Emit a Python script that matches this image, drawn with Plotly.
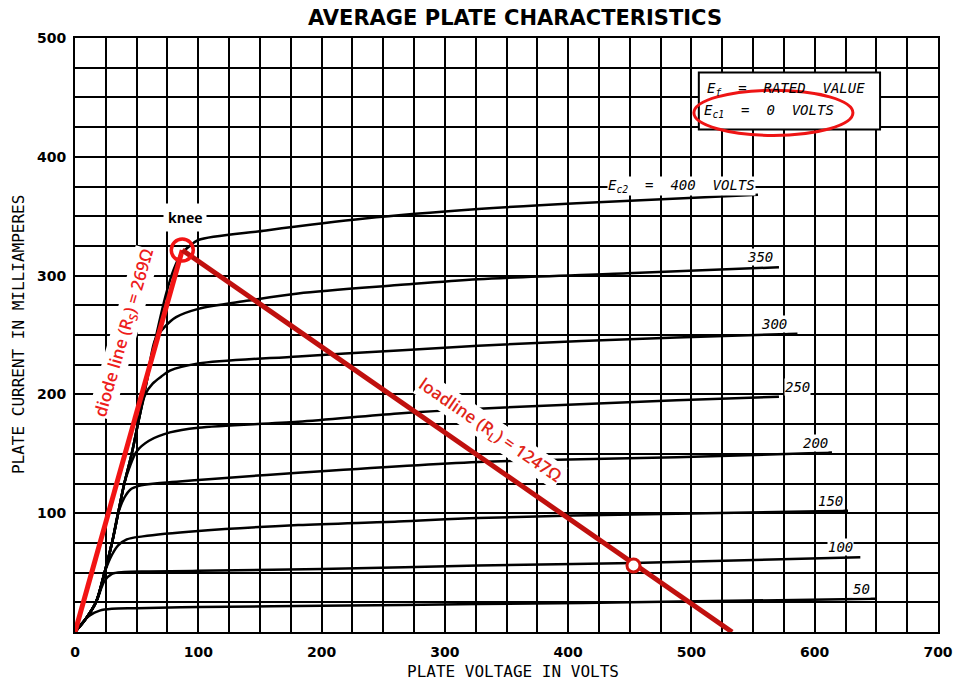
import plotly.graph_objects as go

# ---------------- data ----------------
# Plate voltage (V) / plate current (mA) for each screen-grid voltage Ec2
v_50 = [0, 6, 12, 20, 30, 50, 100, 200, 327, 450, 649]
i_50 = [0, 8, 14, 18, 19.5, 20, 21, 22, 23.5, 25, 28]

v_100 = [0, 8, 17, 24, 30, 40, 60, 100, 200, 327, 453, 637]
i_100 = [0, 10, 25, 43, 49, 50.5, 51, 51.5, 53, 56, 58, 63]

v_150 = [0, 8, 17, 24, 30, 35, 42, 55, 100, 181, 262, 327, 453, 627]
i_150 = [0, 10, 25, 50, 65, 73, 78, 80.5, 85, 90, 93, 96, 99, 102]

v_200 = [0, 8, 17, 24, 30, 35, 40, 45, 52, 65, 100, 181, 327, 391, 488, 614]
i_200 = [0, 10, 25, 50, 75, 100, 113, 120, 123, 125, 128, 134, 143, 145, 147, 151]

v_250 = [0, 8, 17, 24, 30, 35, 40, 44, 50, 60, 77, 100, 181, 262, 327, 488, 571]
i_250 = [0, 10, 25, 50, 75, 100, 125, 138, 152, 161, 168, 172, 177, 184, 188, 195, 198]

v_300 = [0, 8, 17, 24, 30, 35, 40, 46, 52, 57, 63, 70, 77, 100, 181, 262, 327, 488, 586]
i_300 = [0, 10, 25, 50, 75, 100, 125, 150, 180, 200, 209, 215, 220, 226, 232, 237, 241, 248, 251]

v_350 = [0, 8, 17, 24, 30, 35, 40, 46, 52, 58, 65, 72, 82, 100, 141, 181, 262, 327, 448, 571]
i_350 = [0, 10, 25, 50, 75, 100, 125, 150, 180, 210, 246, 256, 265, 272, 279, 285, 292, 297, 302, 307]

v_400 = [0, 8, 17, 24, 30, 35, 40, 46, 52, 58, 66, 74, 80, 86, 93, 100, 155, 235, 327, 407, 554]
i_400 = [0, 10, 25, 50, 75, 100, 125, 150, 180, 210, 250, 285, 305, 318, 325, 330, 338, 348, 356, 361, 368]

curve_labels = ["50", "100", "150", "200", "250", "300", "350"]
label_v = [638, 621, 613, 601, 586, 567, 556]
label_i = [28, 63, 102, 151, 198, 251, 307]

# diode line and load line (red overlays)
diode_v = [0, 87]
diode_i = [0, 321.5]
load_v = [87, 533]
load_i = [321.5, 0]
knee_v, knee_i = [87], [321.5]
op_v, op_i = [453], [56]

x_ticks = [0, 100, 200, 300, 400, 500, 600, 700]
y_ticks = [100, 200, 300, 400, 500]

MONO = "DejaVu Sans Mono"

# ---------------- figure ----------------
fig = go.Figure()

curves = [(v_50, i_50), (v_100, i_100), (v_150, i_150), (v_200, i_200),
          (v_250, i_250), (v_300, i_300), (v_350, i_350), (v_400, i_400)]
for v, i in curves:
    fig.add_trace(go.Scatter(x=v, y=i, mode="lines",
                             line=dict(color="black", width=2.5, shape="spline", smoothing=0.9),
                             hoverinfo="skip", showlegend=False))

fig.add_trace(go.Scatter(x=diode_v, y=diode_i, mode="lines",
                         line=dict(color="#f21414", width=5), showlegend=False))
fig.add_trace(go.Scatter(x=load_v, y=load_i, mode="lines",
                         line=dict(color="#c0100e", width=5), showlegend=False))
fig.add_trace(go.Scatter(x=knee_v, y=knee_i, mode="markers",
                         marker=dict(symbol="circle-open", size=22,
                                     line=dict(color="#f21414", width=3.5), color="#f21414"),
                         showlegend=False))
fig.add_trace(go.Scatter(x=op_v, y=op_i, mode="markers",
                         marker=dict(symbol="circle", size=13, color="white",
                                     line=dict(color="#d0140e", width=3)),
                         showlegend=False))

annotations = []
for t, x, y in zip(curve_labels, label_v, label_i):
    annotations.append(dict(x=x, y=y, text="<i>" + t + "</i>", showarrow=False,
                            yanchor="bottom", yshift=1,
                            font=dict(family=MONO, size=14, color="black"),
                            bgcolor="white", borderpad=0))

annotations += [
    dict(x=492, y=366, text="<i>E<sub>c2</sub>  =  400  VOLTS</i>", showarrow=False,
         yanchor="bottom", yshift=1,
         font=dict(family=MONO, size=14, color="black"), bgcolor="white", borderpad=0),
    dict(x=89, y=349, text="<b>knee</b>", showarrow=False,
         font=dict(family="Open Sans", size=14, color="black"), bgcolor="white", borderpad=4),
    dict(x=577, y=457, text="<i>E<sub>f</sub>  =  RATED  VALUE</i>", showarrow=False,
         font=dict(family=MONO, size=14, color="black")),
    dict(x=563, y=438.5, text="<i>E<sub>c1</sub>  =  0  VOLTS</i>", showarrow=False,
         font=dict(family=MONO, size=14, color="black")),
    dict(x=40, y=252, text="diode line (R<sub>S</sub>) = 269Ω", showarrow=False,
         textangle=-74, font=dict(family="Open Sans", size=17, color="#ee1c1c", weight=600),
         bgcolor="white", borderpad=0),
    dict(x=337, y=170, text="loadline (R<sub>L</sub>) = 1247Ω", showarrow=False,
         textangle=34.6, font=dict(family="Open Sans", size=17, color="#e02418", weight=600),
         bgcolor="white", borderpad=0),
    dict(x=0.51, y=1.034, xref="paper", yref="paper", xanchor="center", yanchor="middle",
         text="<b>AVERAGE PLATE CHARACTERISTICS</b>",
         showarrow=False, font=dict(family="DejaVu Sans", size=21, color="black")),
    dict(x=-0.066, y=0.5, xref="paper", yref="paper", xanchor="center", yanchor="middle",
         text="PLATE CURRENT IN MILLIAMPERES",
         textangle=-90, showarrow=False, font=dict(family=MONO, size=16, color="black")),
    dict(x=0.507, y=-0.067, xref="paper", yref="paper", xanchor="center", yanchor="middle",
         text="PLATE VOLTAGE IN VOLTS",
         showarrow=False, font=dict(family=MONO, size=16, color="black")),
]

shapes = [
    dict(type="rect", x0=506, x1=653, y0=423, y1=471, xref="x", yref="y",
         fillcolor="white", line=dict(color="black", width=2), layer="above"),
    dict(type="circle", x0=502, x1=631, y0=418, y1=456, xref="x", yref="y",
         line=dict(color="#ee1414", width=3), layer="above"),
]

fig.update_layout(
    width=965, height=682,
    margin=dict(l=75, r=22, t=38, b=50),
    paper_bgcolor="white", plot_bgcolor="white",
    annotations=annotations, shapes=shapes,
    xaxis=dict(range=[0, 700], tickvals=x_ticks, ticktext=[str(v) for v in x_ticks],
               showgrid=True, gridcolor="black", gridwidth=2,
               minor=dict(dtick=25, tick0=0, showgrid=True, gridcolor="black", gridwidth=2),
               showline=True, linecolor="black", linewidth=2, mirror=True,
               zeroline=False, ticks="", ticklabelstandoff=6,
               tickfont=dict(family="DejaVu Sans", size=14, color="black", weight="bold")),
    yaxis=dict(range=[0, 500], tickvals=y_ticks, ticktext=[str(v) for v in y_ticks],
               showgrid=True, gridcolor="black", gridwidth=2,
               minor=dict(dtick=25, tick0=0, showgrid=True, gridcolor="black", gridwidth=2),
               showline=True, linecolor="black", linewidth=2, mirror=True,
               zeroline=False, ticks="", ticklabelstandoff=4,
               tickfont=dict(family="DejaVu Sans", size=14, color="black", weight="bold")),
)

fig.write_html("out.html", config={"displayModeBar": False},
               post_script="document.body.style.margin='0';")
